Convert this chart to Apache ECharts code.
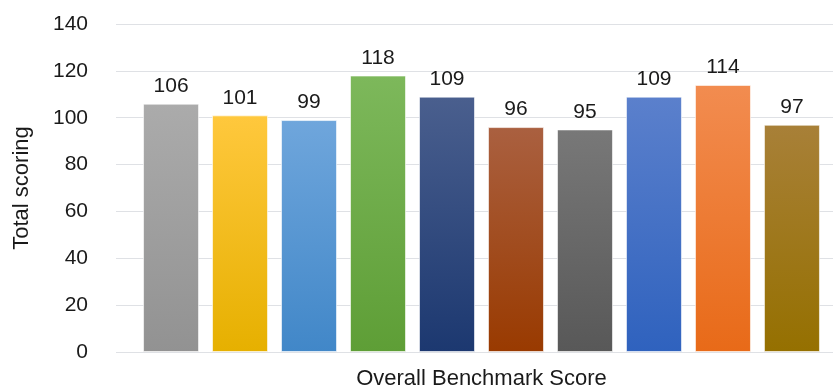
<!DOCTYPE html>
<html>
<head>
<meta charset="utf-8">
<style>
  html, body { margin: 0; padding: 0; background: #ffffff; }
  #chart { width: 833px; height: 387px; }
</style>
<script src="https://cdn.jsdelivr.net/npm/echarts@6/dist/echarts.min.js"></script>
</head>
<body>
<div id="chart"></div>
<script>
// Single category, ten scored entries
const categories = ['Overall Benchmark Score'];
const scores = [106, 101, 99, 118, 109, 96, 95, 109, 114, 97];
const yTicks = [0, 20, 40, 60, 80, 100, 120, 140];

// Top / bottom gradient stops per bar
const topColors = ['#ababab', '#ffc83d', '#6fa6dc', '#7db85b', '#4a5f8e', '#aa6040', '#787878', '#5b80cc', '#f28c50', '#a88038'];
const bottomColors = ['#929292', '#e6b000', '#4187c8', '#5e9e36', '#1c3870', '#993a00', '#585858', '#2f62be', '#e86a18', '#957000'];

const chart = echarts.init(document.getElementById('chart'));

const series = scores.map((v, i) => ({
  type: 'bar',
  name: 'S' + (i + 1),
  data: [v],
  barWidth: 56,
  barGap: '23.2%',
  itemStyle: {
    color: new echarts.graphic.LinearGradient(0, 0, 0, 1, [
      { offset: 0, color: topColors[i] },
      { offset: 1, color: bottomColors[i] }
    ]),
    borderColor: 'rgba(255,255,255,0.6)',
    borderWidth: 1
  },
  label: {
    show: true,
    position: 'top',
    distance: 7,
    color: '#1a1a1a',
    fontFamily: 'Liberation Sans',
    fontSize: 21
  },
  emphasis: { disabled: true }
}));

chart.setOption({
  animation: false,
  backgroundColor: '#ffffff',
  grid: {
    left: 116, top: 24, width: 731, height: 328,
    containLabel: false,
    outerBoundsMode: 'none'
  },
  xAxis: {
    type: 'category',
    data: categories,
    axisLine: { show: false },
    axisTick: { show: false },
    axisLabel: {
      color: '#1a1a1a',
      fontFamily: 'Liberation Sans',
      fontSize: 22,
      margin: 16,
      align: 'center'
    }
  },
  yAxis: {
    type: 'value',
    min: yTicks[0],
    max: yTicks[yTicks.length - 1],
    interval: 20,
    name: 'Total scoring',
    nameLocation: 'middle',
    nameGap: 83,
    nameRotate: 90,
    nameTextStyle: { color: '#1a1a1a', fontFamily: 'Liberation Sans', fontSize: 22 },
    axisLine: { show: false },
    axisTick: { show: false },
    axisLabel: { color: '#1a1a1a', fontFamily: 'Liberation Sans', fontSize: 21, margin: 28 },
    splitLine: { lineStyle: { color: '#dfe1e5', width: 1 } }
  },
  series: series
});
</script>
</body>
</html>
